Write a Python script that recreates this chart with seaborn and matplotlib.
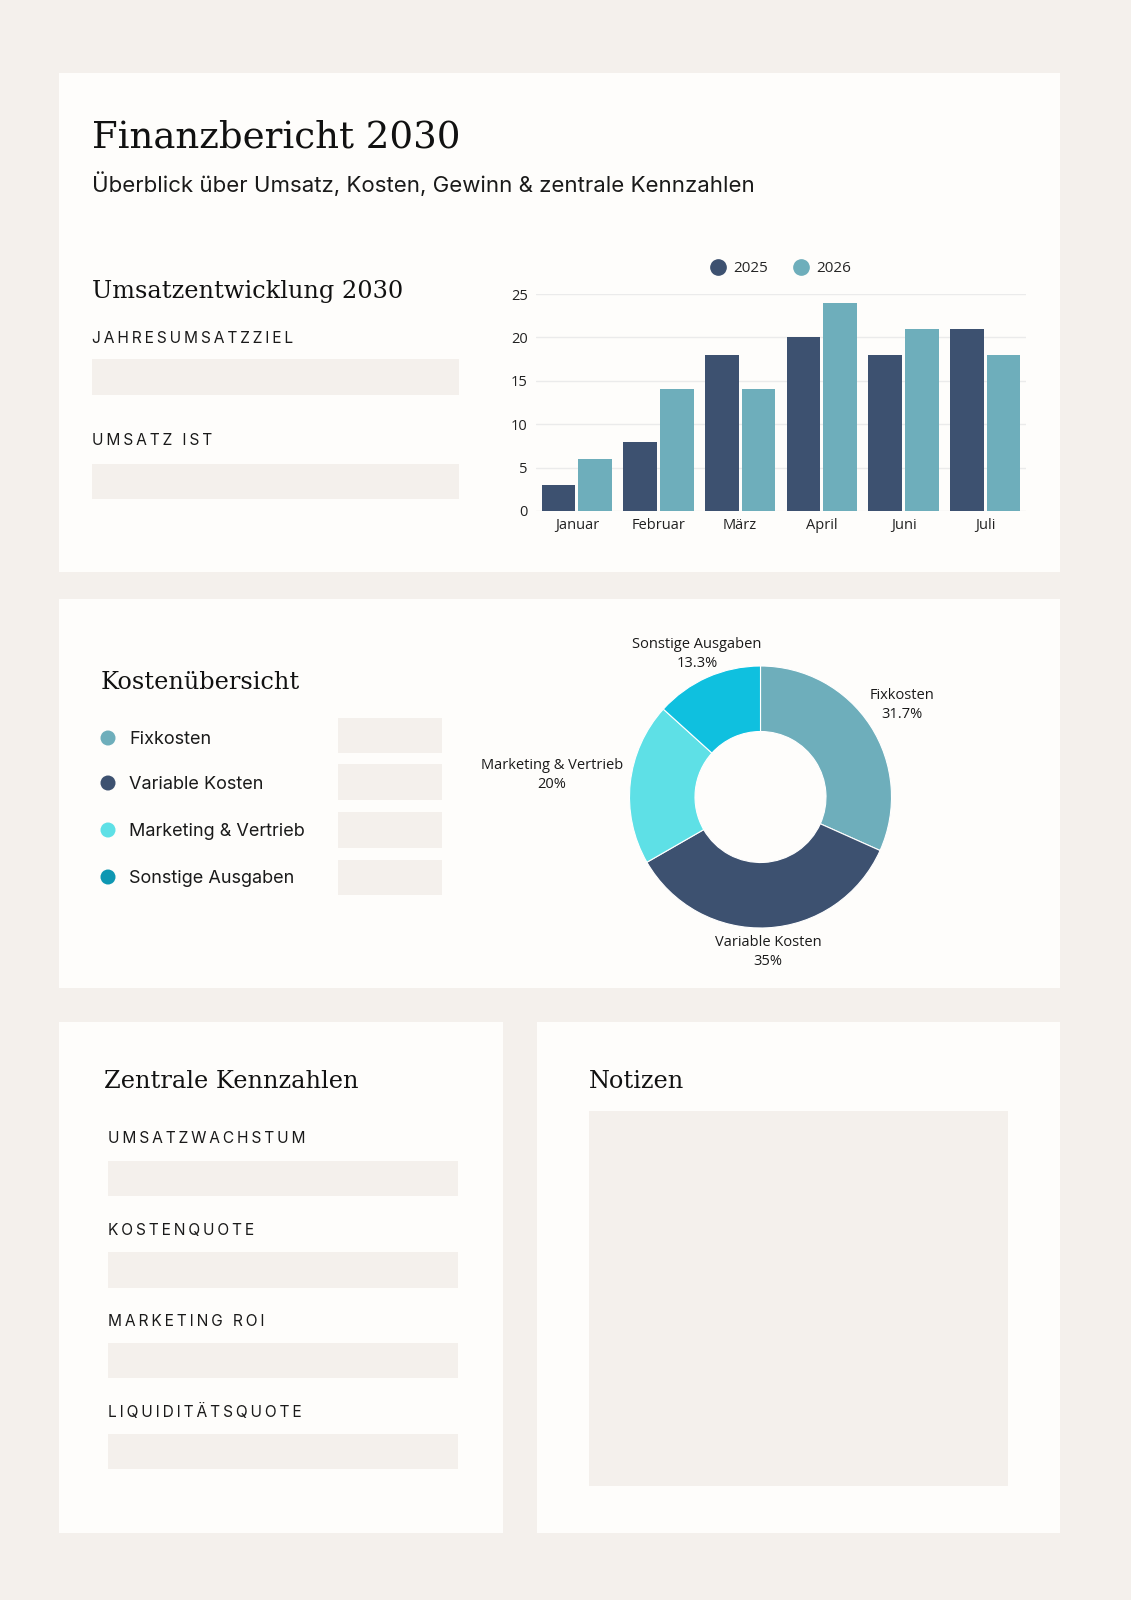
import numpy as np
import pandas as pd
import matplotlib
matplotlib.use("Agg")
import matplotlib.pyplot as plt
import seaborn as sns
from matplotlib.patches import Rectangle, Circle
from matplotlib.lines import Line2D

# --- data ---
monate = ['Januar', 'Februar', 'März', 'April', 'Juni', 'Juli']
umsatz_2025 = [3, 8, 18, 20, 18, 21]
umsatz_2026 = [6, 14, 14, 24, 21, 18]
jahre = ['2025', '2026']

kosten_kategorien = ['Fixkosten', 'Variable Kosten', 'Marketing & Vertrieb', 'Sonstige Ausgaben']
kosten_anteile = [31.7, 35, 20, 13.3]

umsatz_felder = ['JAHRESUMSATZZIEL', 'UMSATZ IST']
kennzahlen = ['UMSATZWACHSTUM', 'KOSTENQUOTE', 'MARKETING ROI', 'LIQUIDITÄTSQUOTE']

# --- colours / fonts ---
BG = '#f4f0ec'
PANEL = '#fefdfb'
FIELD = '#f4f0ec'
DARK = '#3d5170'
TEAL = '#6eaebb'
CYAN = '#5ee0e6'
SKY = '#0fc0df'
SKY_DOT = '#0e97b2'
TXT = '#1a1a1a'
SERIF = 'DejaVu Serif'
SANS = 'Inter'
CHART = 'Open Sans'

sns.set_theme(style='white')
plt.rcParams['font.family'] = [SANS, 'DejaVu Sans']

W, H = 1131, 1600
DPI = 100
fig = plt.figure(figsize=(W / DPI, H / DPI), dpi=DPI)
fig.patch.set_facecolor(BG)

# full-figure canvas in pixel units (y down)
canvas = fig.add_axes([0, 0, 1, 1])
canvas.set_xlim(0, W)
canvas.set_ylim(H, 0)
canvas.axis('off')
canvas.set_zorder(0)


def box(x0, y0, x1, y1, color):
    canvas.add_patch(Rectangle((x0, y0), x1 - x0, y1 - y0, facecolor=color, edgecolor='none'))


def tracked(x, y, s, size=11.2):
    # letter-spaced caps label: thin spaces between the letters
    spaced = '\u2009'.join(s)
    canvas.text(x, y, spaced, fontsize=size, family=[SANS, 'DejaVu Sans'], color=TXT,
                ha='left', va='baseline')


# panels
box(59, 73, 1060, 572, PANEL)
box(59, 599, 1060, 988, PANEL)
box(59, 1022, 503, 1533, PANEL)
box(537, 1022, 1060, 1533, PANEL)

# header
canvas.text(92, 147, 'Finanzbericht 2030', family=SERIF, fontsize=26.7, color='#111', va='baseline')
canvas.text(92, 192, 'Überblick über Umsatz, Kosten, Gewinn & zentrale Kennzahlen',
            family=SANS, fontsize=16, color=TXT, va='baseline')

# Umsatz section
canvas.text(92, 298, 'Umsatzentwicklung 2030', family=SERIF, fontsize=17.3, color='#111', va='baseline')
for lab, base, (y0, y1) in zip(umsatz_felder, [343, 445], [(359, 395), (464, 499)]):
    tracked(92, base, lab)
    box(92, y0, 459, y1, FIELD)

# bar chart
df = pd.DataFrame({
    'Monat': monate * 2,
    'Umsatz': umsatz_2025 + umsatz_2026,
    'Jahr': [jahre[0]] * len(monate) + [jahre[1]] * len(monate),
})
ax = fig.add_axes([536 / W, 1 - 511 / H, 490 / W, 217 / H])
ax.set_zorder(2)
sns.barplot(data=df, x='Monat', y='Umsatz', hue='Jahr', palette=[DARK, TEAL],
            width=0.9, gap=0.08, linewidth=0, saturation=1, ax=ax, zorder=3)
ax.set_facecolor('none')
ax.set_ylim(0, 25)
ax.set_xlim(-0.5, len(monate) - 0.5)
ax.set_yticks(range(0, 26, 5))
ax.yaxis.grid(True, color='#ebebeb', linewidth=1)
ax.set_axisbelow(True)
for s in ax.spines.values():
    s.set_visible(False)
ax.set_xlabel('')
ax.set_ylabel('')
ax.tick_params(axis='both', length=0, labelsize=10.5, colors='#222')
ax.tick_params(axis='y', pad=6)
ax.tick_params(axis='x', pad=5)
for t in ax.get_xticklabels() + ax.get_yticklabels():
    t.set_family(CHART)
handles = [Line2D([], [], marker='o', ls='', markersize=11, markerfacecolor=c, markeredgecolor=c)
           for c in [DARK, TEAL]]
ax.legend(handles, jahre, loc='lower center', bbox_to_anchor=(0.5, 1.02), ncol=2, frameon=False,
          handlelength=1.0, handletextpad=0.5, columnspacing=1.65,
          prop={'family': CHART, 'size': 11})

# Kosten section
canvas.text(101, 689, 'Kostenübersicht', family=SERIF, fontsize=17.3, color='#111', va='baseline')
dot_cols = [TEAL, DARK, CYAN, SKY_DOT]
for lab, c, cy, base, (y0, y1) in zip(kosten_kategorien, dot_cols, [738, 783, 830, 877],
                                      [744, 789, 836, 883],
                                      [(718, 753), (764, 800), (812, 848), (860, 895)]):
    canvas.add_patch(Circle((108, cy), 7.5, facecolor=c, edgecolor='none'))
    canvas.text(129, base, lab, family=SANS, fontsize=13, color=TXT, va='baseline')
    box(338, y0, 442, y1, FIELD)

# donut
CX, CY, R = 760.5, 797, 131
ax2 = fig.add_axes([(CX - R) / W, 1 - (CY + R) / H, 2 * R / W, 2 * R / H])
ax2.set_zorder(2)
wedges, _ = ax2.pie(kosten_anteile, colors=[TEAL, DARK, CYAN, SKY], startangle=90,
                    counterclock=False, radius=1,
                    wedgeprops=dict(width=0.5, edgecolor='white', linewidth=0.8))
ax2.set_xlim(-1, 1)
ax2.set_ylim(-1, 1)
ax2.set_aspect('equal')
ax2.axis('off')

renderer = fig.canvas.get_renderer()
pad = 7
for w, lab, val in zip(wedges, kosten_kategorien, kosten_anteile):
    mid = np.deg2rad((w.theta1 + w.theta2) / 2)
    dx, dy = np.cos(mid), -np.sin(mid)
    t = canvas.text(0, 0, f'{lab}\n{val:g}%', family=CHART, fontsize=10.5, color=TXT,
                    ha='center', va='center', multialignment='center', linespacing=1.35)
    bb = t.get_window_extent(renderer)
    # push the label box outwards along the slice direction until it clears the ring
    ext = min(bb.width / 2 / max(abs(dx), 1e-6), bb.height / 2 / max(abs(dy), 1e-6))
    r = R + pad + ext
    t.set_position((CX + dx * r, CY + dy * r))

# Kennzahlen
canvas.text(104, 1088, 'Zentrale Kennzahlen', family=SERIF, fontsize=17.3, color='#111', va='baseline')
for lab, base, (y0, y1) in zip(kennzahlen, [1143, 1235, 1326, 1417],
                               [(1161, 1196), (1252, 1288), (1343, 1378), (1434, 1469)]):
    tracked(108, base, lab)
    box(108, y0, 458, y1, FIELD)

# Notizen
canvas.text(589, 1088, 'Notizen', family=SERIF, fontsize=17.3, color='#111', va='baseline')
box(589, 1111, 1008, 1486, FIELD)

fig.savefig('out.png', dpi=DPI, facecolor=BG)
